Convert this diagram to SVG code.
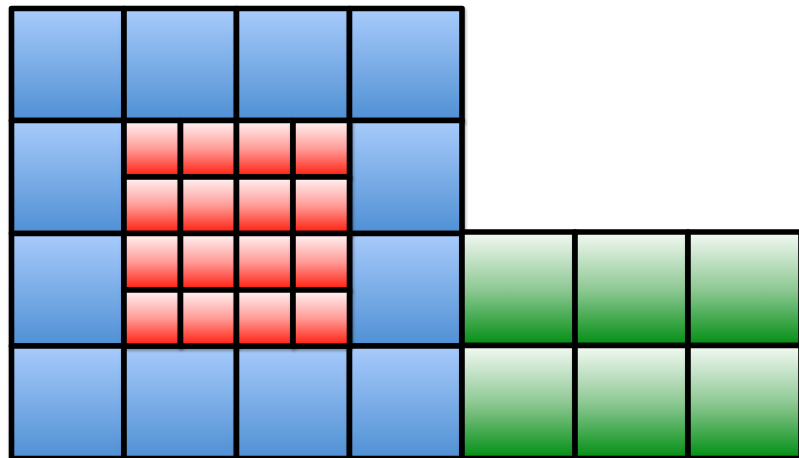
<svg xmlns="http://www.w3.org/2000/svg" width="799" height="458" viewBox="0 0 799 458">
<defs>
<linearGradient id="gb" x1="0" y1="0" x2="0" y2="1"><stop offset="0" stop-color="#a8cbfb"/><stop offset="1" stop-color="#4f90d4"/></linearGradient>
<linearGradient id="gr" x1="0" y1="0" x2="0" y2="1"><stop offset="0" stop-color="#fff6f6"/><stop offset="0.5" stop-color="#ff9c98"/><stop offset="1" stop-color="#ff1c0c"/></linearGradient>
<linearGradient id="gg" x1="0" y1="0" x2="0" y2="1"><stop offset="0" stop-color="#f4f9f4"/><stop offset="0.5" stop-color="#8fc995"/><stop offset="1" stop-color="#008e12"/></linearGradient>
<filter id="sh" x="-10%" y="-10%" width="125%" height="125%"><feDropShadow dx="1" dy="2" stdDeviation="1.5" flood-color="#000" flood-opacity="0.35"/></filter>
</defs>
<style>
.c{stroke:#000;stroke-width:5.6;filter:url(#sh);stroke-linejoin:round}
.b{fill:url(#gb)}
.r{fill:url(#gr)}
.g{fill:url(#gg)}
</style>
<g id="blue">
<g id="b00"><rect class="c b" x="11.5" y="8.5" width="112.5" height="112"/></g>
<g id="b01"><rect class="c b" x="124" y="8.5" width="112.5" height="112"/></g>
<g id="b02"><rect class="c b" x="236.5" y="8.5" width="113" height="112"/></g>
<g id="b03"><rect class="c b" x="349.5" y="8.5" width="112.5" height="112"/></g>
<g id="b10"><rect class="c b" x="11.5" y="120.5" width="112.5" height="113"/></g>
<g id="b13"><rect class="c b" x="349.5" y="120.5" width="112.5" height="113"/></g>
<g id="b20"><rect class="c b" x="11.5" y="233.5" width="112.5" height="112.5"/></g>
<g id="b23"><rect class="c b" x="349.5" y="233.5" width="112.5" height="112.5"/></g>
<g id="b30"><rect class="c b" x="11.5" y="346" width="112.5" height="112.5"/></g>
<g id="b31"><rect class="c b" x="124" y="346" width="112.5" height="112.5"/></g>
<g id="b32"><rect class="c b" x="236.5" y="346" width="113" height="112.5"/></g>
<g id="b33"><rect class="c b" x="349.5" y="346" width="112.5" height="112.5"/></g>
</g>
<g id="red">
<g id="r00"><rect class="c r" x="124" y="120.5" width="56.5" height="56.5"/></g>
<g id="r01"><rect class="c r" x="180.5" y="120.5" width="56" height="56.5"/></g>
<g id="r02"><rect class="c r" x="236.5" y="120.5" width="56.5" height="56.5"/></g>
<g id="r03"><rect class="c r" x="293" y="120.5" width="56.5" height="56.5"/></g>
<g id="r10"><rect class="c r" x="124" y="177" width="56.5" height="56.5"/></g>
<g id="r11"><rect class="c r" x="180.5" y="177" width="56" height="56.5"/></g>
<g id="r12"><rect class="c r" x="236.5" y="177" width="56.5" height="56.5"/></g>
<g id="r13"><rect class="c r" x="293" y="177" width="56.5" height="56.5"/></g>
<g id="r20"><rect class="c r" x="124" y="233.5" width="56.5" height="56.5"/></g>
<g id="r21"><rect class="c r" x="180.5" y="233.5" width="56" height="56.5"/></g>
<g id="r22"><rect class="c r" x="236.5" y="233.5" width="56.5" height="56.5"/></g>
<g id="r23"><rect class="c r" x="293" y="233.5" width="56.5" height="56.5"/></g>
<g id="r30"><rect class="c r" x="124" y="290" width="56.5" height="56"/></g>
<g id="r31"><rect class="c r" x="180.5" y="290" width="56" height="56"/></g>
<g id="r32"><rect class="c r" x="236.5" y="290" width="56.5" height="56"/></g>
<g id="r33"><rect class="c r" x="293" y="290" width="56.5" height="56"/></g>
</g>
<g id="green">
<g id="g00"><rect class="c g" x="462" y="232" width="113" height="113.5"/></g>
<g id="g01"><rect class="c g" x="575" y="232" width="113" height="113.5"/></g>
<g id="g02"><rect class="c g" x="688" y="232" width="113" height="113.5"/></g>
<g id="g10"><rect class="c g" x="462" y="345.5" width="113" height="113"/></g>
<g id="g11"><rect class="c g" x="575" y="345.5" width="113" height="113"/></g>
<g id="g12"><rect class="c g" x="688" y="345.5" width="113" height="113"/></g>
</g>
<g id="connectors"></g>
</svg>
